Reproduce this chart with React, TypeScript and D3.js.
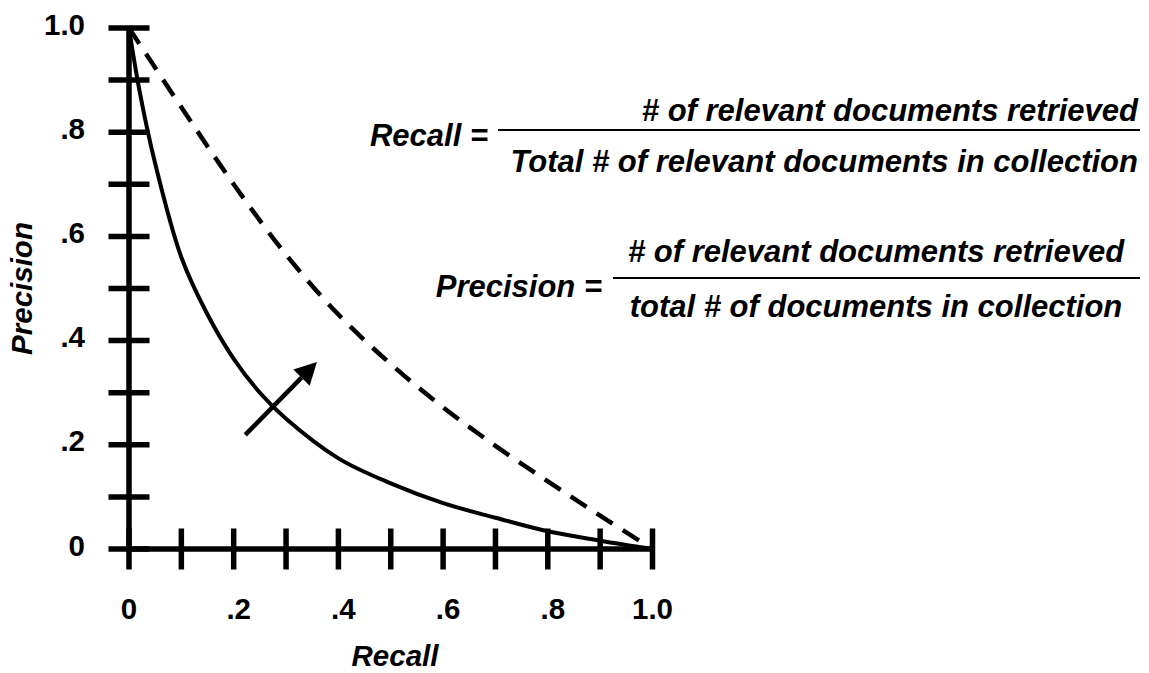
import React from 'react';
import * as d3 from 'd3';

// curve readings (recall, precision)
const solidRecall = [0, 0.02, 0.05, 0.1, 0.15, 0.2, 0.25, 0.3, 0.4, 0.5, 0.6, 0.7, 0.8, 0.9, 1.0];
const solidPrecision = [1.0, 0.88, 0.74, 0.56, 0.45, 0.365, 0.3, 0.25, 0.174, 0.126, 0.088, 0.06, 0.034, 0.016, 0];

const dashedRecall = [0, 0.1, 0.2, 0.3, 0.4, 0.5, 0.6, 0.7, 0.8, 0.9, 1.0];
const dashedPrecision = [1.0, 0.848, 0.7, 0.565, 0.45, 0.355, 0.272, 0.198, 0.13, 0.064, 0];

// arrow annotation: tail -> tip
const arrowFrom = [0.222, 0.219];
const arrowTo = [0.359, 0.359];

const tickValues = [0, 0.1, 0.2, 0.3, 0.4, 0.5, 0.6, 0.7, 0.8, 0.9, 1.0];
const labelValues = [0, 0.2, 0.4, 0.6, 0.8, 1.0];
const labelText = ['0', '.2', '.4', '.6', '.8', '1.0'];

const FONT = '"Liberation Sans", Arial, Helvetica, sans-serif';

export default function App() {
  const W = 1149, H = 673;
  const x = d3.scaleLinear().domain([0, 1]).range([129, 652.5]);
  const y = d3.scaleLinear().domain([0, 1]).range([549, 28]);

  const lineGen = d3.line<[number, number]>()
    .x(d => x(d[0]))
    .y(d => y(d[1]))
    .curve(d3.curveCatmullRom.alpha(0.5));

  const solid = lineGen(solidRecall.map((r, i) => [r, solidPrecision[i]]));
  const dashed = lineGen(dashedRecall.map((r, i) => [r, dashedPrecision[i]]));

  // arrow geometry in pixels
  const ax0 = x(arrowFrom[0]), ay0 = y(arrowFrom[1]);
  const ax1 = x(arrowTo[0]), ay1 = y(arrowTo[1]);
  const ang = Math.atan2(ay1 - ay0, ax1 - ax0);
  const headLen = 22, headHalf = 11.5;
  const bx = ax1 - headLen * Math.cos(ang), by = ay1 - headLen * Math.sin(ang);
  const px = -Math.sin(ang), py = Math.cos(ang);
  const head = `M${ax1},${ay1}L${bx + px * headHalf},${by + py * headHalf}L${bx - px * headHalf},${by - py * headHalf}Z`;

  const axisW = 5.5;
  const tickHalf = 20.5;
  const fs = 31;

  return (
    <svg width={W} height={H} style={{ position: 'absolute', left: 0, top: 0, background: '#fff' }}
      fontFamily={FONT}>
      {/* axes */}
      <line x1={x(0)} x2={x(1)} y1={y(0)} y2={y(0)} stroke="#000" strokeWidth={axisW} />
      <line x1={x(0)} x2={x(0)} y1={y(1)} y2={y(0)} stroke="#000" strokeWidth={axisW} />
      {tickValues.map(t => (
        <line key={'xt' + t} x1={x(t)} x2={x(t)} y1={y(0) - tickHalf} y2={y(0) + tickHalf}
          stroke="#000" strokeWidth={axisW} />
      ))}
      {tickValues.map(t => (
        <line key={'yt' + t} x1={x(0) - tickHalf} x2={x(0) + tickHalf} y1={y(t)} y2={y(t)}
          stroke="#000" strokeWidth={axisW} />
      ))}

      {/* tick labels */}
      {labelValues.map((v, i) => (
        <text key={'xl' + v} x={x(v) + (labelText[i].startsWith('.') ? 5 : 0)} y={619}
          textAnchor="middle" fontSize={29.5} fontWeight="bold">{labelText[i]}</text>
      ))}
      {labelValues.map((v, i) => (
        <text key={'yl' + v} x={85} y={y(v) + 6.5}
          textAnchor="end" fontSize={29.5} fontWeight="bold">{labelText[i]}</text>
      ))}

      {/* axis titles */}
      <text x={395} y={666} textAnchor="middle" fontSize={29.5} fontWeight="bold" fontStyle="italic">Recall</text>
      <text transform={`translate(32,${(y(0) + y(1)) / 2}) rotate(-90)`} textAnchor="middle"
        fontSize={29.5} fontWeight="bold" fontStyle="italic">Precision</text>

      {/* curves */}
      <path d={solid || ''} fill="none" stroke="#000" strokeWidth={4} />
      <path d={dashed || ''} fill="none" stroke="#000" strokeWidth={4.5} strokeDasharray="19,12" />

      {/* arrow */}
      <line x1={ax0} y1={ay0} x2={bx} y2={by} stroke="#000" strokeWidth={4.5} />
      <path d={head} fill="#000" />

      {/* Recall formula */}
      <g fontSize={fs} fontWeight="bold" fontStyle="italic">
        <text x={488} y={146} textAnchor="end">Recall =</text>
        <line x1={498} x2={1140} y1={130} y2={130} stroke="#000" strokeWidth={2} />
        <text x={1138} y={121} textAnchor="end"># of relevant documents retrieved</text>
        <text x={1138} y={172} textAnchor="end">Total # of relevant documents in collection</text>
      </g>

      {/* Precision formula */}
      <g fontSize={fs} fontWeight="bold" fontStyle="italic">
        <text x={602} y={297} textAnchor="end">Precision =</text>
        <line x1={613} x2={1140} y1={278} y2={278} stroke="#000" strokeWidth={2} />
        <text x={876} y={262} textAnchor="middle"># of relevant documents retrieved</text>
        <text x={876} y={317} textAnchor="middle">total # of documents in collection</text>
      </g>
    </svg>
  );
}
